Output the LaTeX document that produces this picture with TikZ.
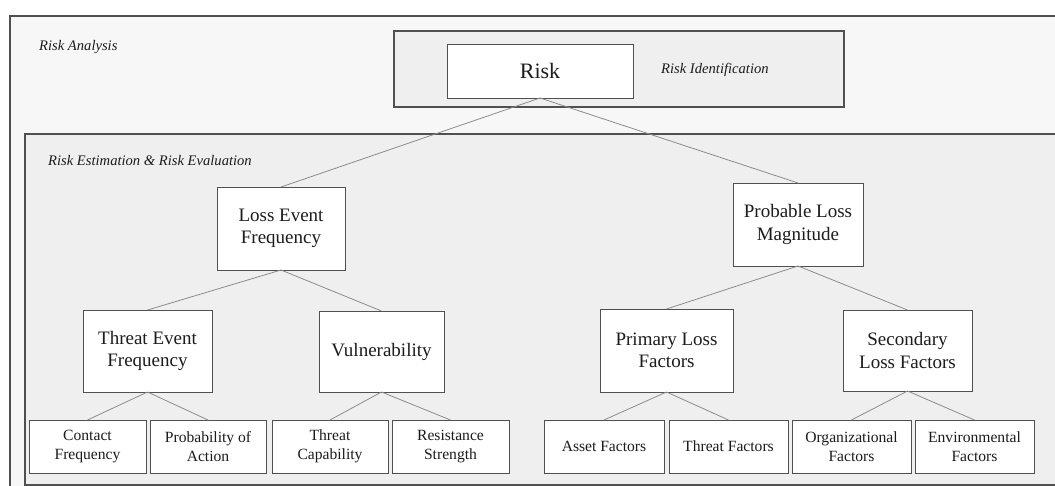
\documentclass[tikz,border=0pt]{standalone}
\usepackage{fontspec}
\setmainfont{Liberation Serif}
\definecolor{txt}{HTML}{1C1C1C}
\definecolor{brd}{HTML}{505050}
\definecolor{conn}{HTML}{8C8C8C}
\definecolor{outerfill}{HTML}{F7F7F7}
\definecolor{innerfill}{HTML}{EFEFEF}
\tikzset{
  box/.style={draw=brd, line width=0.9pt, fill=white, rectangle, inner sep=0pt, outer sep=0pt, align=center, text=txt},
  midbox/.style={box, font=\fontsize{19}{22.5}\selectfont},
  lowbox/.style={box, minimum height=53pt, font=\fontsize{15.6}{19}\selectfont},
  conn/.style={draw=conn, line width=0.8pt},
  area/.style={draw=brd, line width=1.2pt},
  lbl/.style={anchor=base west, inner sep=0pt, text=txt, font=\fontsize{14.6}{17}\selectfont\itshape}
}
\begin{document}
\begin{tikzpicture}[x=1pt,y=-1pt]
\useasboundingbox (0,0) rectangle (1055,486);
\clip (0,0) rectangle (1055,486);
\fill[white] (0,0) rectangle (1055,486);
% containers
\draw[area, fill=outerfill] (10,16) rectangle (1075,510);
\draw[area, fill=innerfill] (25,134) rectangle (1075,485);
\draw[area, fill=innerfill] (394,31) rectangle (844,107);
% area labels
\node[lbl] (la) at (39,51) {Risk Analysis};
\node[lbl] (li) at (661,74) {Risk Identification};
\node[lbl] (le) at (48,166) {Risk Estimation \& Risk Evaluation};
% boxes
\node[box, minimum width=186pt, minimum height=54pt, font=\fontsize{22}{26}\selectfont] (risk) at (540,71) {Risk};
\node[midbox, minimum width=128pt, minimum height=83pt] (lef) at (281,228.5) {Loss Event\\Frequency};
\node[midbox, minimum width=130pt, minimum height=83pt] (plm) at (798,224.5) {Probable Loss\\Magnitude};
\node[midbox, minimum width=129pt, minimum height=82pt] (tef) at (147.5,351) {Threat Event\\Frequency};
\node[midbox, minimum width=125pt, minimum height=81pt] (vul) at (381.5,351.5) {Vulnerability};
\node[midbox, minimum width=133pt, minimum height=83pt] (plf) at (666.5,350.5) {Primary Loss\\Factors};
\node[midbox, minimum width=129pt, minimum height=81pt] (slf) at (907.5,350.5) {Secondary\\Loss Factors};
\node[lowbox, minimum width=117pt] (cf) at (87.5,446.5) {Contact\\Frequency};
\node[lowbox, minimum width=116pt] (pa) at (208,446.5) {Probability of\\Action};
\node[lowbox, minimum width=116pt] (tc) at (330,446.5) {Threat\\Capability};
\node[lowbox, minimum width=117pt] (rs) at (450.5,446.5) {Resistance\\Strength};
\node[lowbox, minimum width=120pt] (af) at (604,446.5) {Asset Factors};
\node[lowbox, minimum width=119pt] (tf) at (728.5,446.5) {Threat Factors};
\node[lowbox, minimum width=119pt] (of) at (851.5,446.5) {Organizational\\Factors};
\node[lowbox, minimum width=119pt] (ef) at (974.5,446.5) {Environmental\\Factors};
% connectors
\draw[conn] (risk.south) -- (lef.north);
\draw[conn] (risk.south) -- (plm.north);
\draw[conn] (lef.south) -- (tef.north);
\draw[conn] (lef.south) -- (vul.north);
\draw[conn] (plm.south) -- (plf.north);
\draw[conn] (plm.south) -- (slf.north);
\draw[conn] (tef.south) -- (cf.north);
\draw[conn] (tef.south) -- (pa.north);
\draw[conn] (vul.south) -- (tc.north);
\draw[conn] (vul.south) -- (rs.north);
\draw[conn] (plf.south) -- (af.north);
\draw[conn] (plf.south) -- (tf.north);
\draw[conn] (slf.south) -- (of.north);
\draw[conn] (slf.south) -- (ef.north);
\end{tikzpicture}
\end{document}
